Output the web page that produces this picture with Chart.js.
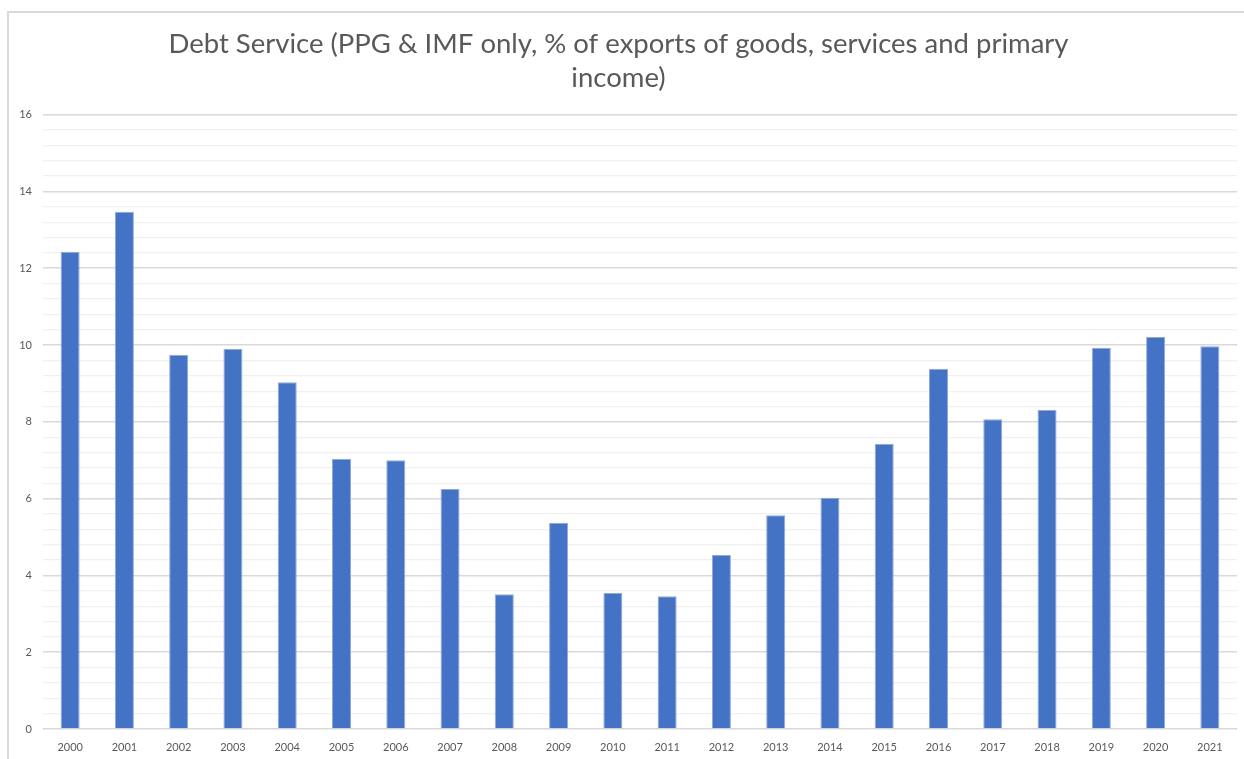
<!DOCTYPE html>
<html>
<head>
<meta charset="utf-8">
<script src="https://cdn.jsdelivr.net/npm/chart.js@4/dist/chart.umd.min.js"></script>
<style>
  html, body { margin: 0; padding: 0; background: #ffffff; }
  #wrap { width: 1244px; height: 759px; position: relative; }
</style>
</head>
<body>
<div id="wrap"><canvas id="chart" width="1244" height="759"></canvas></div>
<script>
// Debt service, PPG & IMF only, as % of exports of goods, services and primary income
const years = ['2000','2001','2002','2003','2004','2005','2006','2007','2008','2009','2010',
               '2011','2012','2013','2014','2015','2016','2017','2018','2019','2020','2021'];
const debtService = [12.43, 13.47, 9.75, 9.90, 9.03, 7.04, 7.00, 6.25, 3.51, 5.37, 3.54,
                     3.46, 4.53, 5.57, 6.02, 7.43, 9.38, 8.07, 8.31, 9.93, 10.21, 9.97];
const titleLines = ['Debt Service (PPG & IMF only, % of exports of goods, services and primary', 'income)'];
const yMin = 0, yMax = 16, yLabelStep = 2, yGridStep = 0.4;

const FONT = 'Lato, "Open Sans", sans-serif';
const TEXT = '#595959';

// Light frame along the top and left edges of the chart
const framePlugin = {
  id: 'frame',
  beforeDraw(chart) {
    const ctx = chart.ctx;
    ctx.save();
    ctx.strokeStyle = '#d9d9d9';
    ctx.lineWidth = 2;
    ctx.beginPath();
    ctx.moveTo(8, chart.height);
    ctx.lineTo(8, 12);
    ctx.lineTo(chart.width, 12);
    ctx.stroke();
    ctx.restore();
  }
};

const isMajor = v => Math.abs(v / yLabelStep - Math.round(v / yLabelStep)) < 1e-6;

new Chart(document.getElementById('chart'), {
  type: 'bar',
  data: {
    labels: years,
    datasets: [{
      data: debtService,
      backgroundColor: '#4472C4',
      borderColor: '#8ea9dc',
      borderWidth: 1,
      barPercentage: 0.35,
      categoryPercentage: 1.0
    }]
  },
  plugins: [framePlugin],
  options: {
    responsive: false,
    animation: false,
    layout: { padding: { left: 0, right: 7, top: 10, bottom: 0 } },
    plugins: {
      legend: { display: false },
      tooltip: { enabled: false },
      title: {
        display: true,
        text: titleLines,
        color: TEXT,
        font: { family: FONT, size: 27.5, weight: 'normal', lineHeight: 1.23 },
        padding: { top: 17, bottom: 20 }
      }
    },
    scales: {
      x: {
        afterFit(scale) { scale.height = 30; },
        grid: { display: false, drawTicks: false },
        border: { display: false },
        ticks: {
          color: TEXT,
          font: { family: FONT, size: 11 },
          padding: 12,
          maxRotation: 0,
          autoSkip: false
        }
      },
      y: {
        min: yMin,
        max: yMax,
        afterFit(scale) { scale.width = 43; },
        border: { display: false },
        grid: {
          drawTicks: false,
          color: ctx => (ctx.tick && isMajor(ctx.tick.value)) ? '#d9d9d9' : '#f0f0f0',
          lineWidth: ctx => (ctx.tick && isMajor(ctx.tick.value)) ? 1.5 : 1.2
        },
        ticks: {
          stepSize: yGridStep,
          autoSkip: false,
          color: TEXT,
          font: { family: FONT, size: 11 },
          padding: 11,
          callback: v => isMajor(v) ? String(Math.round(v)) : ''
        }
      }
    }
  }
});
</script>
</body>
</html>
